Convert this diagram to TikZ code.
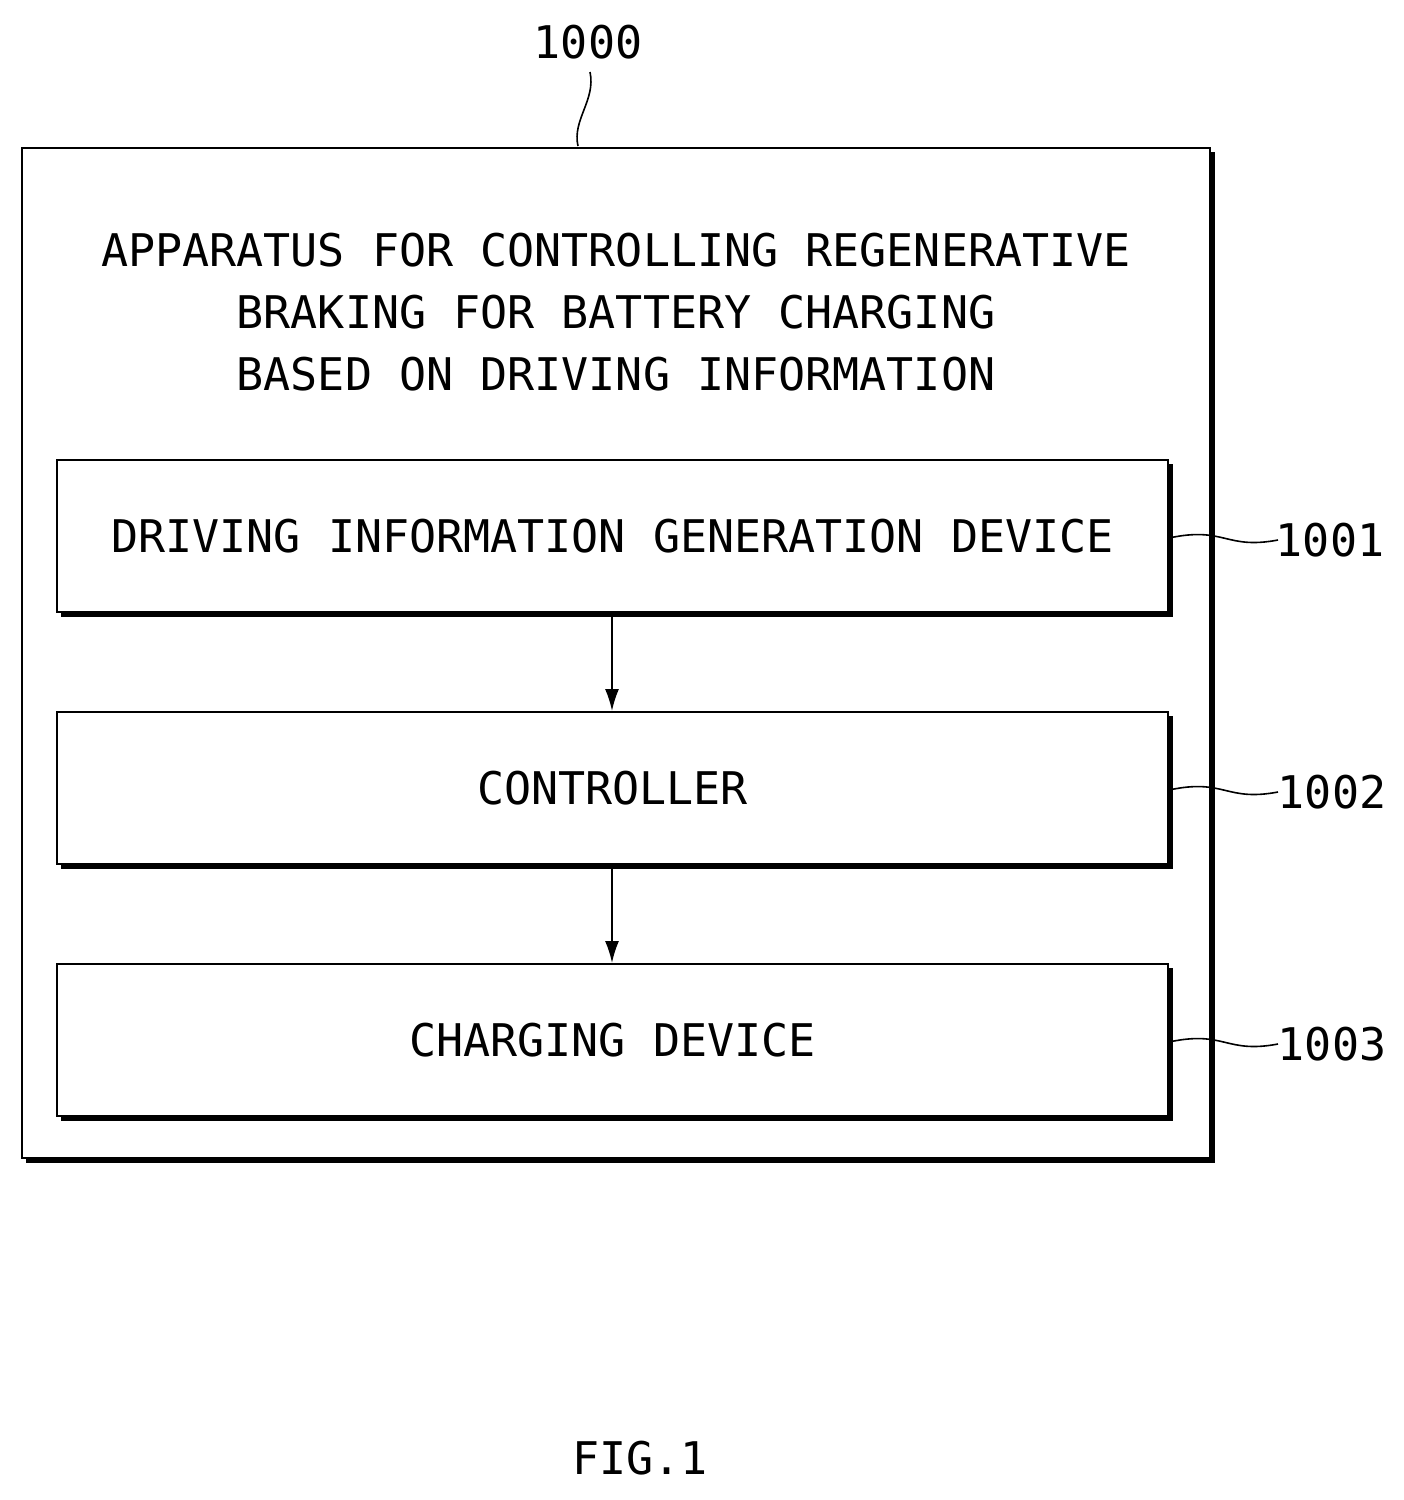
\documentclass[tikz,border=0pt]{standalone}
\usepackage{fontspec}
\setmainfont{DejaVu Sans Mono}
\begin{document}
\begin{tikzpicture}[x=1pt,y=-1pt,
  txt/.style={font=\fontsize{45}{62}\selectfont,align=center},
  box/.style={draw,line width=2pt,minimum width=1111pt,minimum height=152pt,inner sep=0pt},
  lead/.style={line width=1.6pt},
  arr/.style={line width=1.8pt,-{Latex[length=22pt,width=14pt]}}]
\usetikzlibrary{arrows.meta}
\useasboundingbox (0,0) rectangle (1404,1500);
% outer
\draw[line width=5pt] (1212,152) -- (1212,1160) -- (26,1160);
\node[draw,line width=2pt,minimum width=1188pt,minimum height=1010pt,inner sep=0pt] (outer) at (616,653) {};
\node[txt] (title) at (616,312) {APPARATUS FOR CONTROLLING REGENERATIVE\\BRAKING FOR BATTERY CHARGING\\BASED ON DRIVING INFORMATION};
% inner boxes with shadows
\foreach \y in {536,788,1040}{
  \draw[line width=5pt] (1170,\y-72) -- (1170,\y+78) -- (61,\y+78);
}
\node[box] (b1) at (612.5,536) {};
\node[txt] at (b1) {DRIVING INFORMATION GENERATION DEVICE};
\node[box] (b2) at (612.5,788) {};
\node[txt] at (b2) {CONTROLLER};
\node[box] (b3) at (612.5,1040) {};
\node[txt] at (b3) {CHARGING DEVICE};
\draw[arr] (b1.south -| 612,0) ++(0,4) -- (b2.north -| 612,0);
\draw[arr] (b2.south -| 612,0) ++(0,4) -- (b3.north -| 612,0);
% labels
\node[txt] (l0) at (588,42) {1000};
\node[txt] (l1) at (1330,540) {1001};
\node[txt] (l2) at (1332,792) {1002};
\node[txt] (l3) at (1332,1044) {1003};
\coordinate (c0) at (578,146);
\draw[lead] (c0) .. controls (572,120) and (596,100) .. (590,72);
\foreach \n/\y in {b1/536,b2/788,b3/1040}{
  \draw[lead] (\n.east) ++(0,2) .. controls (1225,\y-10) and (1225,\y+14) .. (1278,\y+4);
}
\node[txt] (fig) at (640,1458) {FIG.1};
\end{tikzpicture}
\end{document}
